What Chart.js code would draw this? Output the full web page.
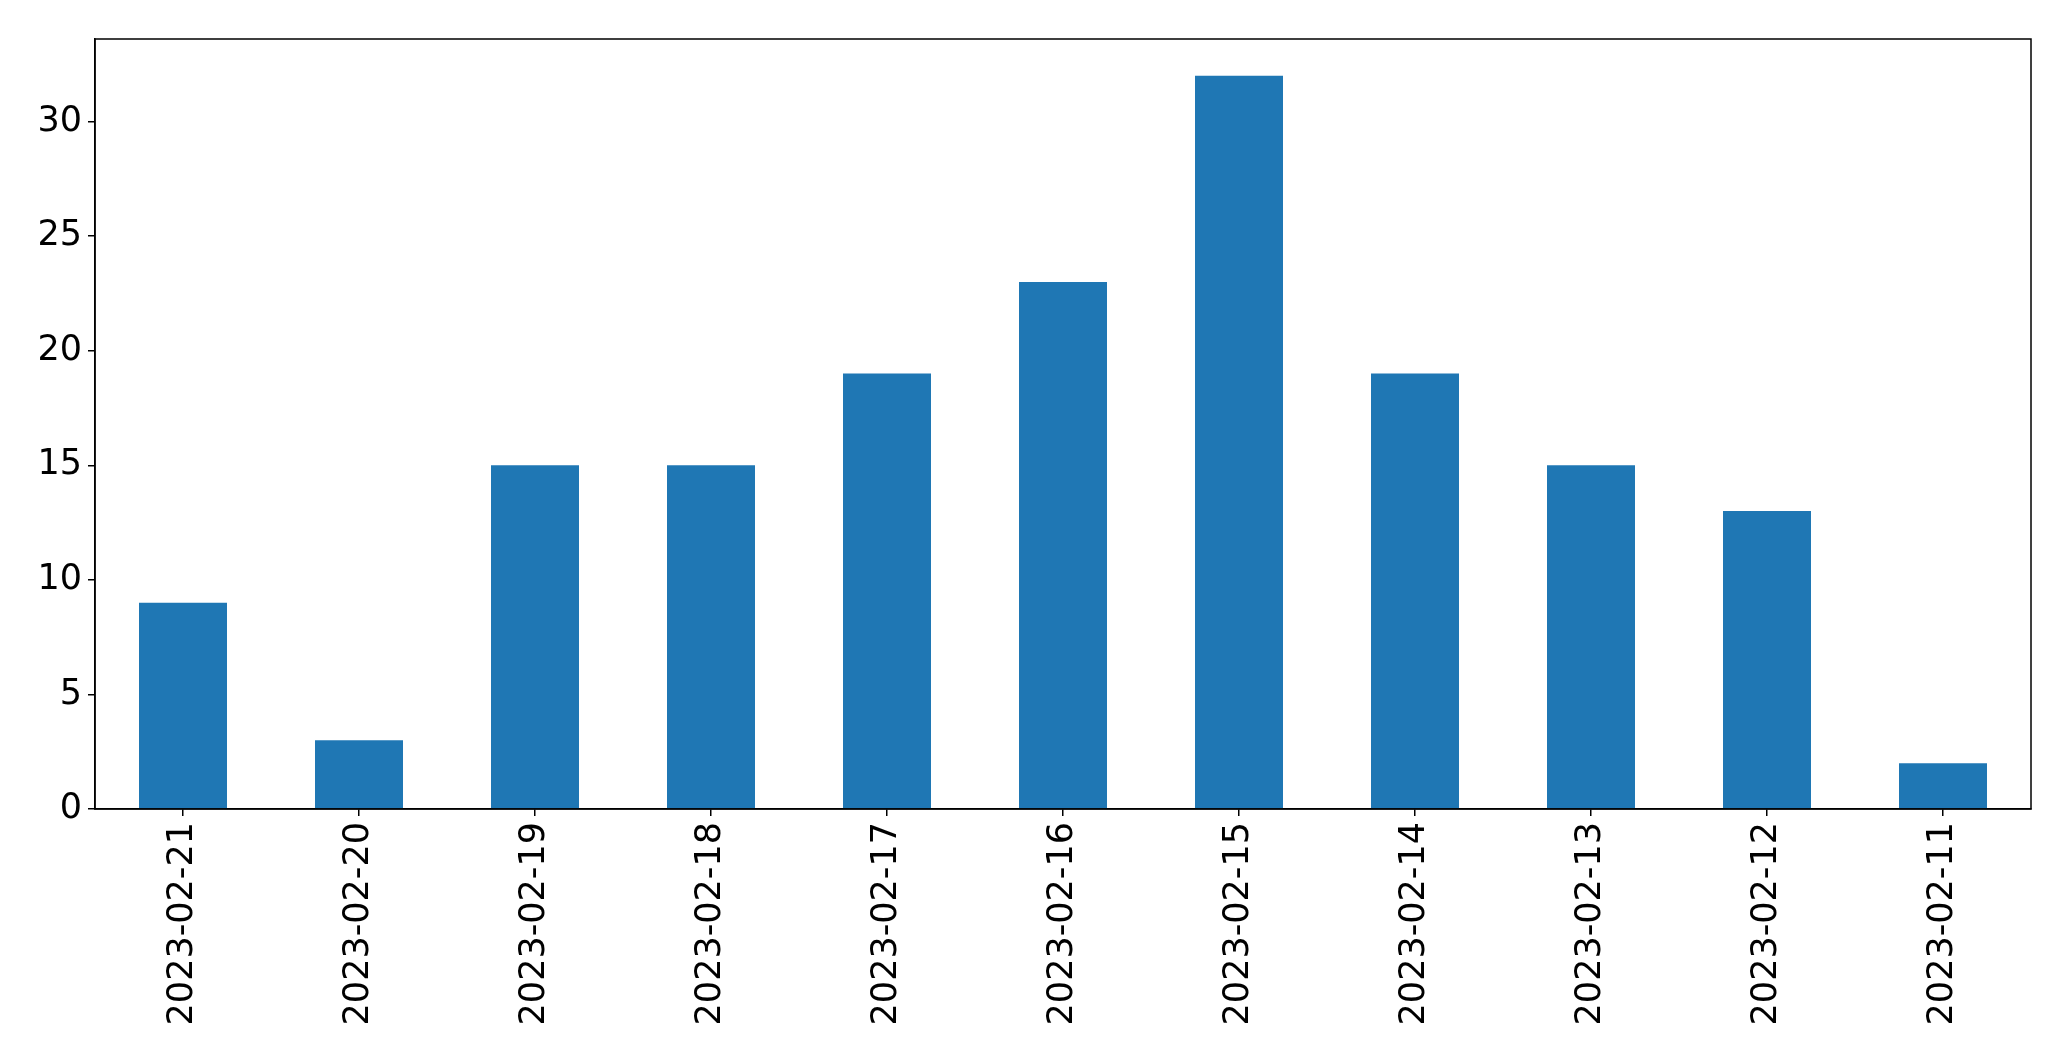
<!DOCTYPE html>
<html>
<head>
<meta charset="utf-8">
<script src="https://cdn.jsdelivr.net/npm/chart.js@4"></script>
<style>
  html, body { margin: 0; padding: 0; background: #fff; }
  canvas { display: block; }
</style>
</head>
<body>
<canvas id="myChart" width="2071" height="1061"></canvas>
<script>
// data
var dates = ["2023-02-21", "2023-02-20", "2023-02-19", "2023-02-18", "2023-02-17",
             "2023-02-16", "2023-02-15", "2023-02-14", "2023-02-13", "2023-02-12", "2023-02-11"];
var counts = [9, 3, 15, 15, 19, 23, 32, 19, 15, 13, 2];
var yTicks = [0, 5, 10, 15, 20, 25, 30];

// draws the box round the plot, like matplotlib
var frame = {
  id: "frame",
  afterDraw: function(chart) {
    var a = chart.chartArea;
    var ctx = chart.ctx;
    ctx.save();
    ctx.strokeStyle = "#000";
    ctx.lineWidth = 1.5;
    ctx.strokeRect(a.left, a.top, a.right - a.left, a.bottom - a.top);
    ctx.restore();
  }
};

Chart.defaults.font.family = "'DejaVu Sans', sans-serif";
Chart.defaults.color = "#000";

new Chart("myChart", {
  type: "bar",
  data: {
    labels: dates,
    datasets: [{
      data: counts,
      backgroundColor: "#1f77b4",
      barPercentage: 0.5,
      categoryPercentage: 1.0
    }]
  },
  options: {
    responsive: false,
    animation: false,
    devicePixelRatio: 1,
    layout: { padding: { top: 39, right: 40, left: 0, bottom: 0 } },
    plugins: {
      legend: { display: false },
      tooltip: { enabled: false }
    },
    scales: {
      x: {
        offset: true,
        grid: { display: true, offset: false, drawOnChartArea: false, drawTicks: true, tickLength: 7, color: "#000", lineWidth: 1.5 },
        border: { display: true, color: "#000", width: 1.5 },
        ticks: { font: { size: 35 }, minRotation: 90, maxRotation: 90, padding: 6, autoSkip: false },
        afterFit: function(s) { s.height = 252; }
      },
      y: {
        min: 0,
        max: 33.6,
        afterBuildTicks: function(s) { s.ticks = yTicks.map(function(v) { return { value: v }; }); },
        grid: { display: true, drawOnChartArea: false, drawTicks: true, tickLength: 7, color: "#000", lineWidth: 1.5 },
        border: { display: true, color: "#000", width: 1.5 },
        ticks: { font: { size: 35 }, padding: 6 },
        afterFit: function(s) { s.width = 95; }
      }
    }
  },
  plugins: [frame]
});
</script>
</body>
</html>
